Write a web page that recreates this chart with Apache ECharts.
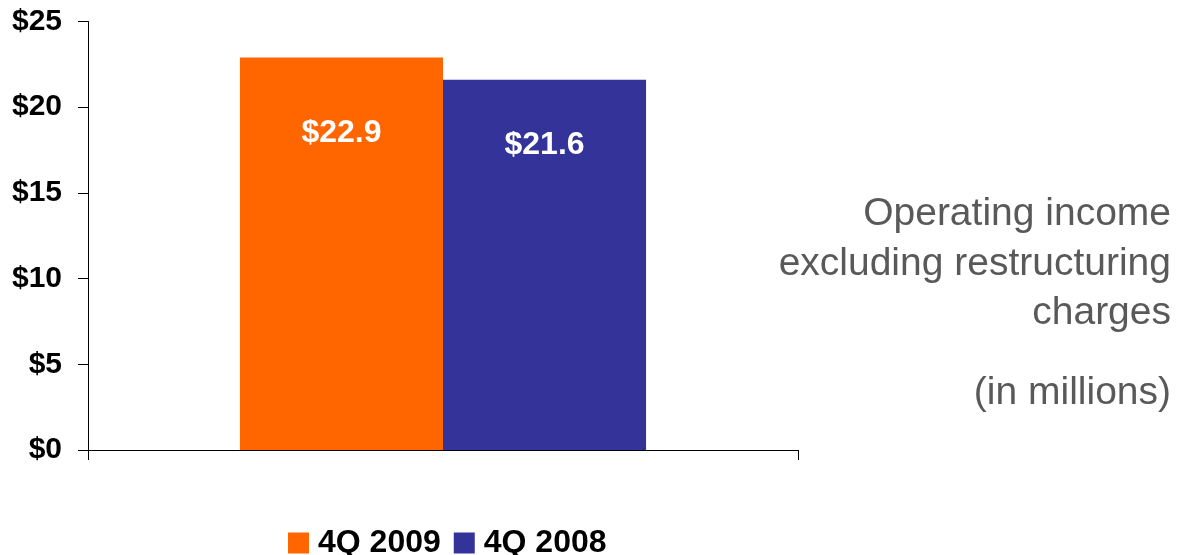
<!DOCTYPE html>
<html>
<head>
<meta charset="utf-8">
<script src="https://cdn.jsdelivr.net/npm/echarts@6/dist/echarts.min.js"></script>
<style>html,body{margin:0;padding:0;background:#fff;}#c{width:1202px;height:555px;}</style>
</head>
<body>
<div id="c"></div>
<script>
const categories = ['Operating income'];
const seriesNames = ['4Q 2009', '4Q 2008'];
const values2009 = [22.9];
const values2008 = [21.6];
const yTicks = [0, 5, 10, 15, 20, 25];
const sideText = ['Operating income', 'excluding restructuring', 'charges', '(in millions)'];

const chart = echarts.init(document.getElementById('c'), null, {renderer: 'canvas'});
const font = '"Liberation Sans", Arial, sans-serif';
const sideY = [214, 264, 313, 393];
chart.setOption({
  animation: false,
  backgroundColor: '#fff',
  grid: {left: 88, right: 404, top: 21.5, bottom: 105, containLabel: false},
  legend: {
    data: seriesNames,
    left: 288, top: 527, padding: 0,
    itemWidth: 21, itemHeight: 21, itemGap: 13,
    icon: 'rect',
    textStyle: {fontFamily: font, fontWeight: 'bold', fontSize: 32, lineHeight: 31, color: '#000', padding: [0, 0, 0, 4]}
  },
  xAxis: {
    type: 'category', data: categories,
    axisLine: {lineStyle: {color: '#000', width: 1}},
    axisTick: {show: true, length: 10, lineStyle: {color: '#000'}},
    axisLabel: {show: false}
  },
  yAxis: {
    type: 'value', min: yTicks[0], max: yTicks[yTicks.length - 1], interval: yTicks[1] - yTicks[0],
    splitLine: {show: false},
    axisLine: {show: true, lineStyle: {color: '#000', width: 1}},
    axisTick: {show: true, length: 10, lineStyle: {color: '#000'}},
    axisLabel: {margin: 26, fontFamily: font, fontWeight: 'bold', fontSize: 30, color: '#000', formatter: v => '$' + v}
  },
  series: [
    {
      name: seriesNames[0], type: 'bar', data: values2009,
      barGap: '0%', barCategoryGap: '42.8%',
      itemStyle: {color: '#FF6600'},
      label: {show: true, position: 'insideTop', distance: 60, formatter: p => '$' + p.value.toFixed(1),
        color: '#fff', fontFamily: font, fontWeight: 'bold', fontSize: 32}
    },
    {
      name: seriesNames[1], type: 'bar', data: values2008,
      barGap: '0%', barCategoryGap: '42.8%',
      itemStyle: {color: '#333399'},
      label: {show: true, position: 'insideTop', distance: 49, formatter: p => '$' + p.value.toFixed(1),
        color: '#fff', fontFamily: font, fontWeight: 'bold', fontSize: 32}
    }
  ],
  graphic: sideText.map((t, i) => ({
    type: 'text', x: 1171, y: sideY[i],
    style: {text: t, textAlign: 'right', textVerticalAlign: 'middle', fill: '#595959',
      font: '39px "Liberation Sans", Arial, sans-serif'}
  }))
});
</script>
</body>
</html>
